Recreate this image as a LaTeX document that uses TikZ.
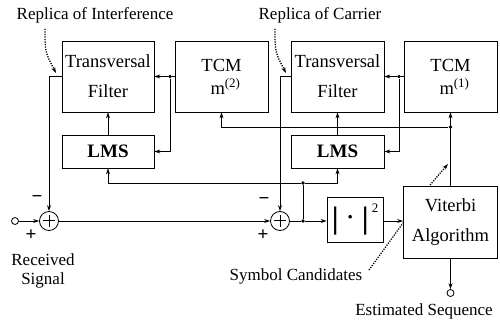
\documentclass[tikz,border=0pt]{standalone}
\usepackage{fontspec}
\setmainfont{Liberation Serif}
\usetikzlibrary{arrows.meta}
\begin{document}
\begin{tikzpicture}[x=1pt,y=-1pt, line width=0.8pt,
  blk/.style={draw, inner sep=0pt, align=center, font=\fontsize{18.5}{30}\selectfont},
  arr/.style={-{Stealth[length=6pt,width=4pt]}},
  jdot/.style={circle, fill, inner sep=0pt, minimum size=3.6pt},
  port/.style={circle, draw, inner sep=0pt, minimum size=7pt, fill=white},
  summ/.style={circle, draw, inner sep=0pt, minimum size=19pt,
    path picture={\draw[line width=1pt] ([xshift=-6pt]path picture bounding box.center) -- ([xshift=6pt]path picture bounding box.center);
                  \draw[line width=1pt] ([yshift=-6pt]path picture bounding box.center) -- ([yshift=6pt]path picture bounding box.center);}},
  lbl/.style={font=\fontsize{17}{19}\selectfont, align=center, inner sep=0pt},
  sgn/.style={font=\fontsize{19}{19}\selectfont\bfseries, inner sep=0pt},
  dotl/.style={line width=1.3pt, dash pattern=on 1.2pt off 1.3pt}]
\useasboundingbox (0,0) rectangle (500,320);

% blocks
\node[blk, minimum width=92pt, minimum height=71pt] (tf1) at (108,76.5) {Transversal\\Filter};
\node[blk, minimum width=93pt, minimum height=71pt, font=\fontsize{18.5}{23}\selectfont] (tcm2) at (221.5,76.5) {TCM\\\hspace*{8pt}m\textsuperscript{(2)}};
\node[blk, minimum width=92pt, minimum height=33pt, font=\fontsize{19}{22}\selectfont\bfseries] (lms1) at (108,151.5) {LMS};
\node[blk, minimum width=93pt, minimum height=71pt] (tf2) at (337.5,76.5) {Transversal\\Filter};
\node[blk, minimum width=93pt, minimum height=71pt, font=\fontsize{18.5}{23}\selectfont] (tcm1) at (450.5,76.5) {TCM\\\hspace*{8pt}m\textsuperscript{(1)}};
\node[blk, minimum width=93pt, minimum height=33pt, font=\fontsize{19}{22}\selectfont\bfseries] (lms2) at (337.5,151.5) {LMS};
\node[blk, minimum width=56pt, minimum height=45pt] (ab) at (355,220) {{\fontsize{31}{31}\selectfont\bfseries|}\hspace{8pt}\raisebox{4pt}{\fontsize{22}{22}\selectfont\bfseries·}\hspace{8pt}{\fontsize{31}{31}\selectfont\bfseries|}\hspace{3pt}\raisebox{16pt}{\fontsize{13}{13}\selectfont 2}};
\node[blk, minimum width=94pt, minimum height=72pt] (vit) at (450.5,222) {Viterbi\\Algorithm};

% summers and ports
\node[summ] (s1) at (49,221) {};
\node[summ] (s2) at (280,221) {};
\node[port] (in) at (15,221) {};
\node[port] (out) at (450.5,293) {};

% junctions
\node[jdot] (j1) at (170,76.5) {};
\node[jdot] (j2) at (399,76.5) {};
\node[jdot] (e1) at (303,221) {};
\node[jdot] (e2) at (303,183) {};
\node[jdot] (v1) at (450.5,127) {};

% signs
\node[sgn] (m1) at (37,199) {−};
\node[sgn] (p1) at (31,235) {+};
\node[sgn] (m2) at (264,201) {−};
\node[sgn] (p2) at (263,235) {+};

% labels
\node[lbl] (lri) at (95,15) {Replica of Interference};
\node[lbl] (lrc) at (320,15) {Replica of Carrier};
\node[lbl] (lrs) at (43,271) {Received\\Signal};
\node[lbl] (lsc) at (296,276) {Symbol Candidates};
\node[lbl] (les) at (424,311) {Estimated Sequence};

% connectors
\draw[arr] (in) -- (s1);
\draw[arr] (s1) -- (s2);
\draw[arr] (tf1.west) -| (s1.north);
\draw[arr] (tf2.west) -| (s2.north);
\draw (tcm2.west) -- (j1);
\draw[arr] (j1) -- (tf1.east);
\draw[arr] (j1) |- (lms1.east);
\draw (tcm1.west) -- (j2);
\draw[arr] (j2) -- (tf2.east);
\draw[arr] (j2) |- (lms2.east);
\draw[arr] (lms1.north) -- (tf1.south);
\draw[arr] (lms2.north) -- (tf2.south);
\draw (s2.east) -- (e1);
\draw[arr] (e1) -- (e1 -| ab.west);
\draw (e1) -- (e2);
\draw[arr] (e2) -| (lms1.south);
\draw[arr] (e2) -| (lms2.south);
\draw[arr] (e1 -| ab.east) -- (e1 -| vit.west);
\draw[arr] (vit.north) -- (tcm1.south);
\draw[arr] (v1) -| (tcm2.south);
\draw[arr] (vit.south) -- (out.north);

% dotted pointers
\coordinate (ri0) at (45,29);
\coordinate (ri1) at (56,73);
\draw[dotl, arr] (ri0) .. controls (45,52) .. (ri1);
\coordinate (rc0) at (275,29);
\coordinate (rc1) at (286,73);
\draw[dotl, arr] (rc0) .. controls (275,52) .. (rc1);
\coordinate (sc0) at (369,270);
\coordinate (sc1) at (403,223);
\draw[dotl] (sc0) -- (sc1);
\coordinate (vd0) at (430,185);
\coordinate (vd1) at (448,164);
\draw[dotl, arr] (vd0) -- (vd1);
\end{tikzpicture}
\end{document}
